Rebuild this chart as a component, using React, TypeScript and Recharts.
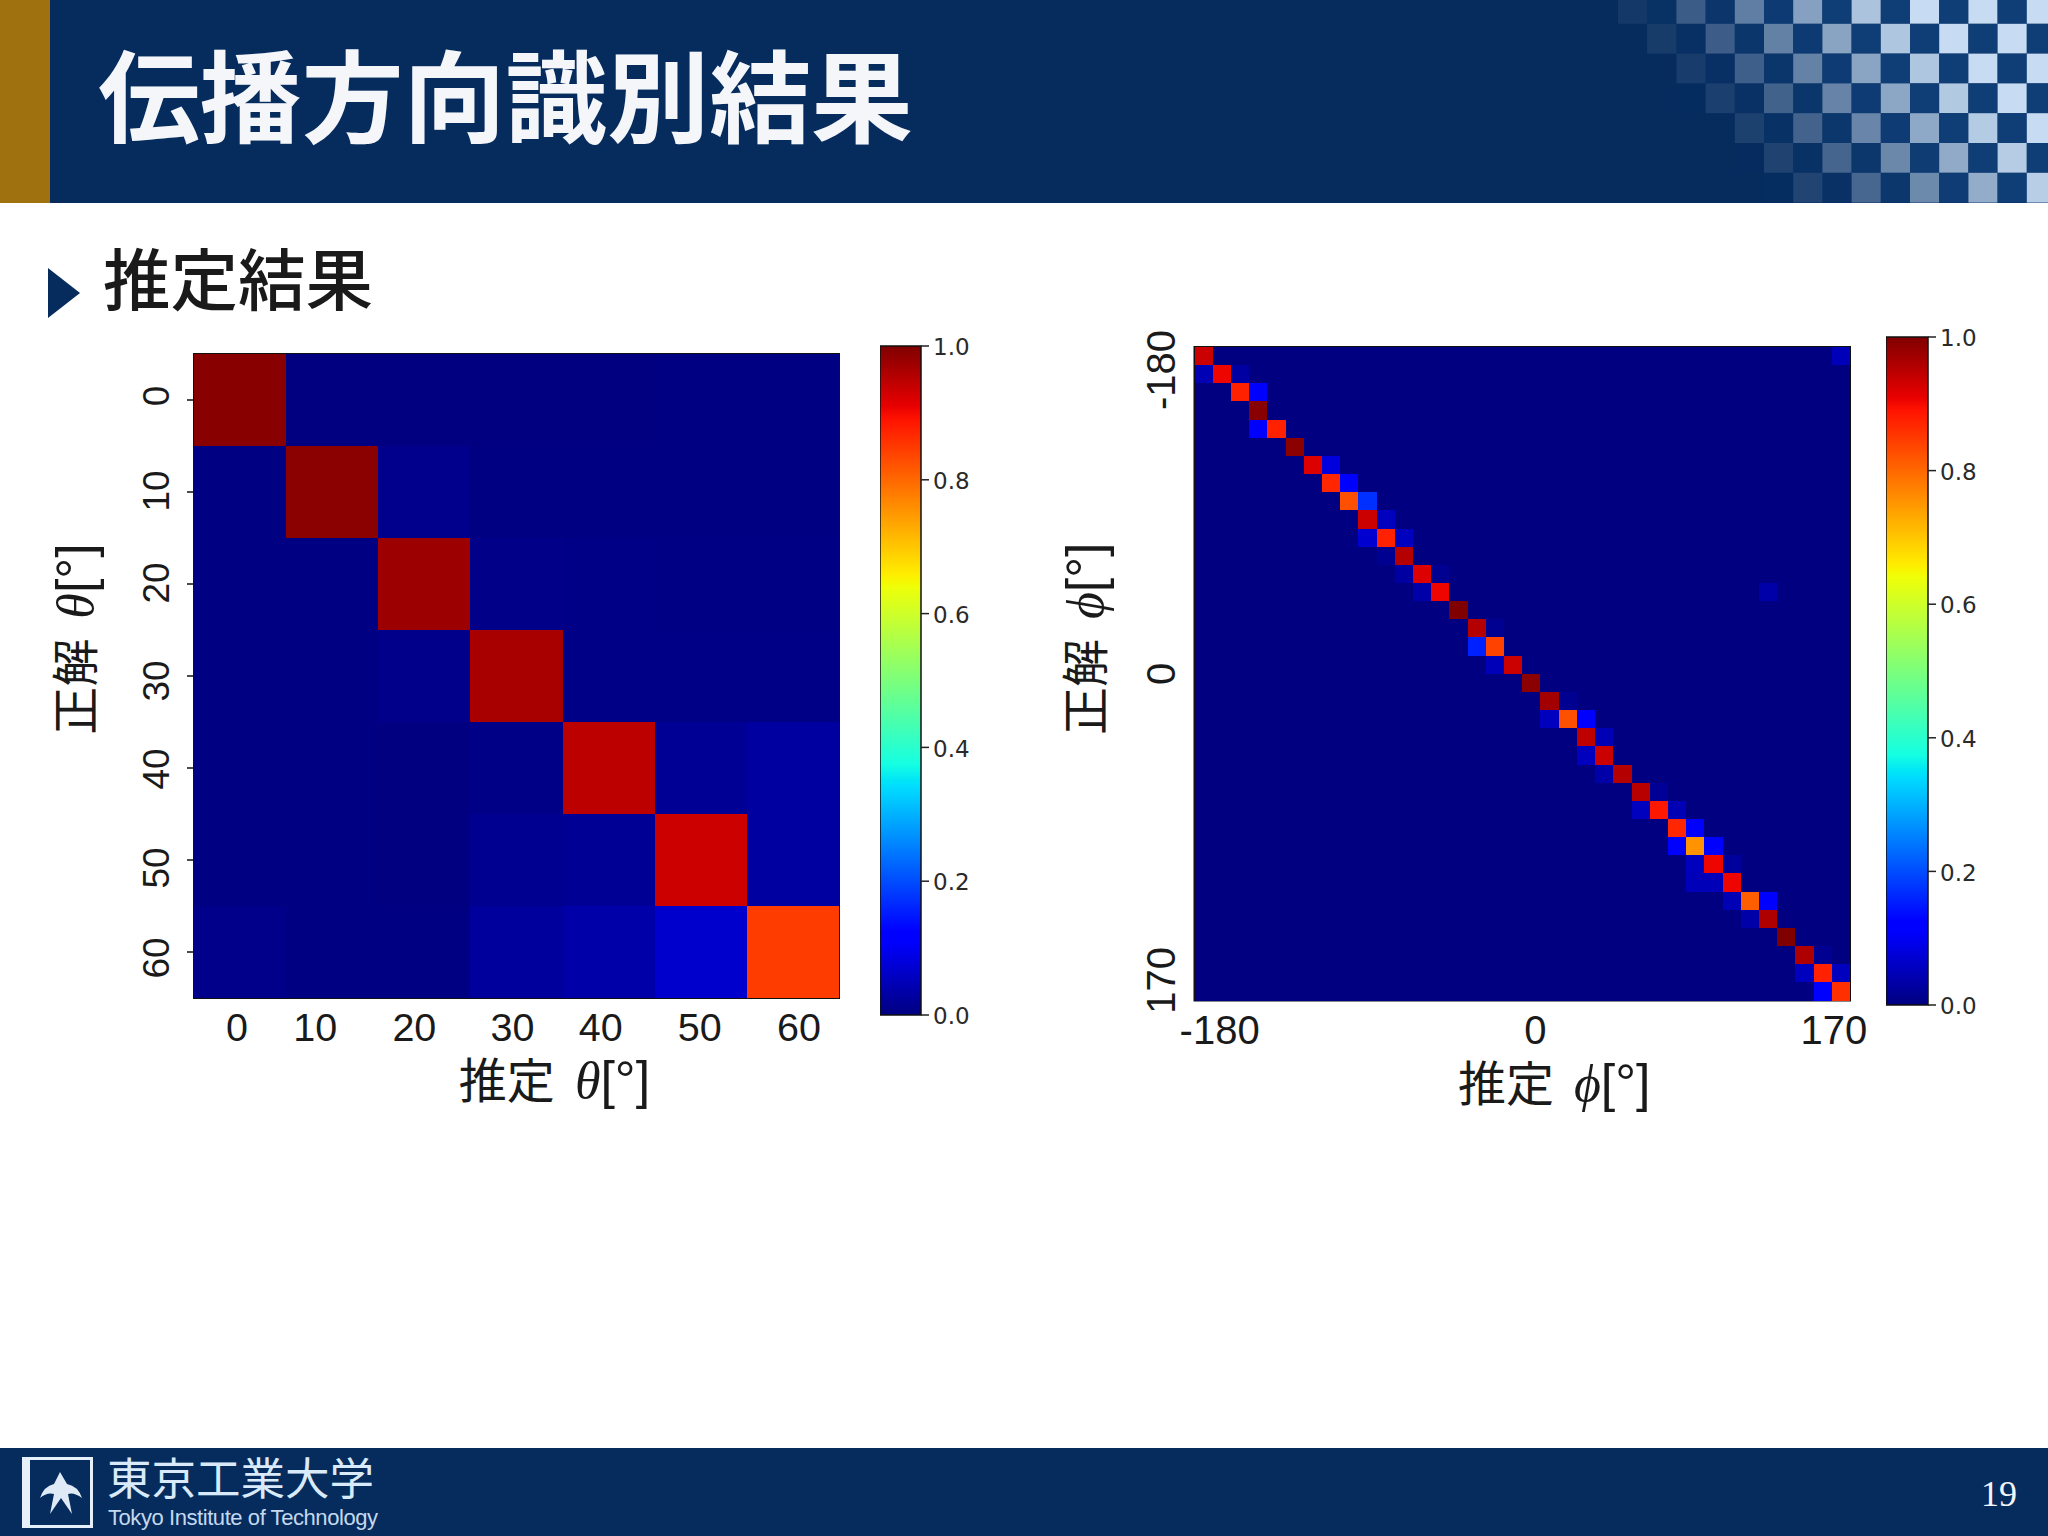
import { BarChart, Bar, XAxis, YAxis, ScatterChart, Scatter, ReferenceArea, Label } from "recharts";

const TITLE = "伝播方向識別結果";
const SUBTITLE = "推定結果";

// theta confusion matrix, rows = true angle, columns = estimated angle
const thetaLabels = [0, 10, 20, 30, 40, 50, 60];
const thetaRow0 = [0.993, 0.001, 0.001, 0.001, 0.001, 0.003, 0.003];
const thetaRow1 = [0.002, 0.99, 0.012, 0.002, 0.002, 0.003, 0.002];
const thetaRow2 = [0.002, 0.003, 0.975, 0.008, 0.006, 0.005, 0.004];
const thetaRow3 = [0.003, 0.002, 0.01, 0.965, 0.006, 0.006, 0.006];
const thetaRow4 = [0.003, 0.002, 0.001, 0.006, 0.948, 0.018, 0.028];
const thetaRow5 = [0.002, 0.002, 0.001, 0.014, 0.018, 0.933, 0.028];
const thetaRow6 = [0.009, 0.002, 0.002, 0.025, 0.036, 0.066, 0.846];
const thetaRows = [thetaRow0, thetaRow1, thetaRow2, thetaRow3, thetaRow4, thetaRow5, thetaRow6];

// phi confusion matrix is almost empty, so only the non zero cells are listed: [row, column, value]
const phiLabels = [-180, 0, 170];
const phiAngles = [
  -180, -170, -160, -150, -140, -130, -120, -110, -100, -90, -80, -70, -60, -50, -40, -30, -20, -10,
  0, 10, 20, 30, 40, 50, 60, 70, 80, 90, 100, 110, 120, 130, 140, 150, 160, 170,
];
const phiCells = [
  [0, 0, 0.935], [0, 35, 0.05],
  [1, 0, 0.045], [1, 1, 0.905], [1, 2, 0.03],
  [2, 2, 0.875], [2, 3, 0.11],
  [3, 3, 0.993],
  [4, 3, 0.11], [4, 4, 0.875],
  [5, 5, 0.99],
  [6, 6, 0.92], [6, 7, 0.08],
  [7, 7, 0.87], [7, 8, 0.11],
  [8, 8, 0.826], [8, 9, 0.172],
  [9, 9, 0.935], [9, 10, 0.055],
  [10, 9, 0.07], [10, 10, 0.875], [10, 11, 0.055],
  [11, 10, 0.015], [11, 11, 0.955],
  [12, 11, 0.03], [12, 12, 0.92], [12, 13, 0.015],
  [13, 12, 0.035], [13, 13, 0.905], [13, 31, 0.035],
  [14, 14, 1.0],
  [15, 15, 0.955], [15, 16, 0.015],
  [16, 15, 0.157], [16, 16, 0.84],
  [17, 16, 0.05], [17, 17, 0.935],
  [18, 18, 0.99],
  [19, 19, 0.97], [19, 20, 0.015],
  [20, 19, 0.055], [20, 20, 0.825], [20, 21, 0.11],
  [21, 21, 0.945], [21, 22, 0.045],
  [22, 21, 0.055], [22, 22, 0.935],
  [23, 22, 0.035], [23, 23, 0.955],
  [24, 24, 0.95], [24, 25, 0.02],
  [25, 24, 0.055], [25, 25, 0.885], [25, 26, 0.045],
  [26, 26, 0.87], [26, 27, 0.11],
  [27, 26, 0.11], [27, 27, 0.753], [27, 28, 0.11],
  [28, 27, 0.055], [28, 28, 0.905], [28, 29, 0.025],
  [29, 27, 0.05], [29, 28, 0.05], [29, 29, 0.905],
  [30, 29, 0.045], [30, 30, 0.81], [30, 31, 0.11],
  [31, 30, 0.035], [31, 31, 0.96],
  [32, 32, 1.0],
  [33, 33, 0.96], [33, 34, 0.015],
  [34, 33, 0.055], [34, 34, 0.875], [34, 35, 0.055],
  [35, 34, 0.11], [35, 35, 0.86],
];

const colorbarTicks = [0, 0.2, 0.4, 0.6, 0.8, 1];
const colorbarData = [{ name: "scale", value: 1 }];
const jetStops = [0, 0.11, 0.125, 0.34, 0.35, 0.375, 0.64, 0.65, 0.66, 0.89, 0.91, 1];

const thetaTable = thetaRows.flatMap((row, r) =>
  row.map((value, c) => ({ x: thetaLabels[c], y: thetaLabels[r], value }))
);
const phiLookup = new Map(phiCells.map(([r, c, v]) => [`${r}-${c}`, v]));
const phiTable = phiAngles.flatMap((yAngle, r) =>
  phiAngles.map((xAngle, c) => ({ x: xAngle, y: yAngle, value: phiLookup.get(`${r}-${c}`) ?? 0 }))
);

const NAVY = "#062c5e";
const JP = '"Noto Sans CJK JP", sans-serif';
const ARIAL = '"Liberation Sans", Arial, sans-serif';
const DEJAVU = '"DejaVu Sans", sans-serif';

// matplotlib's jet, piecewise
const ramp = (v: number, pts: number[][]) => {
  for (let i = 1; i < pts.length; i++) {
    if (v <= pts[i][0]) {
      const [x0, y0] = pts[i - 1];
      const [x1, y1] = pts[i];
      return y0 + ((v - x0) / (x1 - x0)) * (y1 - y0);
    }
  }
  return pts[pts.length - 1][1];
};
const jet = (v: number) => {
  const r = ramp(v, [[0, 0], [0.35, 0], [0.66, 1], [0.89, 1], [1, 0.5]]);
  const g = ramp(v, [[0, 0], [0.125, 0], [0.375, 1], [0.64, 1], [0.91, 0], [1, 0]]);
  const b = ramp(v, [[0, 0.5], [0.11, 1], [0.34, 1], [0.65, 0], [1, 0]]);
  return `rgb(${Math.round(r * 255)},${Math.round(g * 255)},${Math.round(b * 255)})`;
};

const heatCell = (w: number, h: number) => (p: any) => (
  <rect
    x={p.cx - w / 2}
    y={p.cy - h / 2}
    width={w}
    height={h}
    fill={jet(p.payload.value)}
    shapeRendering="crispEdges"
  />
);

const axisTitle = (symbol: string, prefix: string, vertical: boolean, shift: number, cross: number) => (props: any) => {
  const { x, y, width, height } = props.viewBox;
  const tx = vertical ? x + cross : x + width / 2 + shift;
  const ty = vertical ? y + height / 2 + shift : y + cross;
  return (
    <text
      x={tx}
      y={ty}
      textAnchor="middle"
      fill="#1a1a1a"
      fontSize={48}
      fontFamily={JP}
      transform={vertical ? `rotate(-90 ${tx} ${ty})` : undefined}
    >
      {prefix}
      <tspan dx={20} fontFamily='"Liberation Serif", serif' fontStyle="italic" fontSize={52}>{symbol}</tspan>
      <tspan fontFamily={ARIAL} fontSize={52}>[°]</tspan>
    </text>
  );
};

const numberTick = (fontSize: number, nudge: number[], dy: number) => (p: any) => (
  <text x={p.x + nudge[p.index]} y={p.y + dy} textAnchor="middle" fontSize={fontSize} fontFamily={ARIAL} fill="#1a1a1a">
    {p.payload.value}
  </text>
);
const rotatedTick = (fontSize: number, nudge: number[], dx: number) => (p: any) => {
  const tx = p.x + dx;
  const ty = p.y + nudge[p.index];
  return (
    <text x={tx} y={ty} textAnchor="middle" fontSize={fontSize} fontFamily={ARIAL} fill="#1a1a1a" transform={`rotate(-90 ${tx} ${ty})`}>
      {p.payload.value}
    </text>
  );
};

const Colorbar = ({ id, left, top, barWidth, barHeight }: any) => (
  <div style={{ position: "absolute", left, top: top - 20 }}>
    <BarChart
      width={barWidth + 69}
      height={barHeight + 40}
      data={colorbarData}
      margin={{ top: 20, right: 0, bottom: 20, left: 0 }}
      barCategoryGap={0}
    >
      <defs>
        <linearGradient id={id} x1="0" y1="1" x2="0" y2="0">
          {jetStops.map((s) => (
            <stop key={s} offset={s} stopColor={jet(s)} />
          ))}
        </linearGradient>
      </defs>
      <XAxis dataKey="name" hide />
      <YAxis
        orientation="right"
        width={69}
        domain={[0, 1]}
        ticks={colorbarTicks}
        interval={0}
        axisLine={false}
        tickSize={8}
        tickMargin={4}
        tickLine={{ stroke: "#222", strokeWidth: 1.5 }}
        tickFormatter={(v: number) => v.toFixed(1)}
        tick={{ fill: "#2a2a2a", fontSize: 23, fontFamily: DEJAVU, dy: 1 }}
      />
      <Bar dataKey="value" fill={`url(#${id})`} stroke="#111" strokeWidth={1.5} isAnimationActive={false} />
    </BarChart>
  </div>
);

const Background = () => {
  const squares = [];
  for (let row = 0; row < 7; row++) {
    for (let col = 0; col < 30; col++) {
      const x = 1618 + col * 29.2;
      const y = -6 + row * 29.8;
      const light = (col + row) % 2 === 0;
      const alpha = Math.min(0.96, Math.max(0, (x - 1595 - row * 26) / 310));
      squares.push(
        <rect
          key={`${row}-${col}`}
          x={x}
          y={y}
          width={29.2}
          height={29.8}
          fill={light ? "#cfe3f8" : "#0f3d75"}
          opacity={light ? alpha : Math.min(1, alpha * 1.6)}
        />
      );
    }
  }
  return (
    <svg width={2048} height={1536} style={{ position: "absolute", left: 0, top: 0 }}>
      <rect width={2048} height={1536} fill="#fff" />
      <rect width={2048} height={203} fill={NAVY} />
      <svg x={0} y={0} width={2048} height={203}>{squares}</svg>
      <rect width={50} height={203} fill="#a0720f" />
      <text x={98} y={135} fontSize={100} fontWeight={700} fontFamily={JP} fill="#f4f6fa" textLength={815} lengthAdjust="spacingAndGlyphs">{TITLE}</text>
      <polygon points="48,268 80,293 48,318" fill={NAVY} />
      <text x={103} y={305} fontSize={67.5} fontWeight={500} fontFamily={JP} fill="#1a1a1a">{SUBTITLE}</text>

      <rect y={1448} width={2048} height={88} fill={NAVY} />
      <rect x={22} y={1457} width={71} height={71} fill="#e6f0fa" />
      <rect x={30} y={1460} width={60} height={65} fill={NAVY} />
      <path
        d="M60 1472 L67 1484 Q78 1486 82 1498 Q74 1492 68 1494 L72 1514 L61 1498 L50 1514 L54 1494 Q47 1492 40 1498 Q44 1486 54 1484 Z"
        fill="#dfeaf6"
      />
      <text x={107} y={1495} fontSize={44.5} fontFamily={JP} fill="#d9eafa">東京工業大学</text>
      <text x={108} y={1525} fontSize={22} fontFamily={ARIAL} fill="#c4d8ee" textLength={270}>Tokyo Institute of Technology</text>
      <text x={1981} y={1506} fontSize={36} fontFamily='"Liberation Serif", serif' fill="#f2f5f9">19</text>
    </svg>
  );
};

export default function App() {
  return (
    <div style={{ position: "absolute", left: 0, top: 0, width: 2048, height: 1536, overflow: "hidden" }}>
      <Background />

      <div style={{ position: "absolute", left: 40, top: 340 }}>
        <ScatterChart width={820} height={790} margin={{ top: 14, right: 21, bottom: 0, left: 0 }}>
          <XAxis
            type="number"
            dataKey="x"
            height={132}
            domain={[-5, 65]}
            ticks={thetaLabels}
            interval={0}
            axisLine={false}
            tickLine={false}
            tickSize={0}
            tickMargin={0}
            tick={numberTick(39.5, [-3, -17, -10, -4, -8, -1, 6], 43)}
          >
            <Label content={axisTitle("θ", "推定", false, 38, 100)} />
          </XAxis>
          <YAxis
            type="number"
            dataKey="y"
            width={154}
            reversed
            domain={[-5, 65]}
            ticks={thetaLabels}
            interval={0}
            axisLine={false}
            tickSize={7}
            tickMargin={0}
            tickLine={{ stroke: "#111", strokeWidth: 1.5 }}
            tick={rotatedTick(37, [-4, -1, -1, 5, 1, 8, 6], -18)}
          >
            <Label content={axisTitle("θ", "正解", true, -37, 53)} />
          </YAxis>
          <Scatter data={thetaTable} shape={heatCell(645 / 7, 644 / 7)} isAnimationActive={false} />
          <ReferenceArea x1={-5} x2={65} y1={-5} y2={65} fill="none" stroke="#111" strokeWidth={2} />
        </ScatterChart>
      </div>
      <Colorbar id="jet-theta" left={880} top={346} barWidth={41} barHeight={669} />

      <div style={{ position: "absolute", left: 1050, top: 330 }}>
        <ScatterChart width={820} height={790} margin={{ top: 17, right: 20, bottom: 0, left: 0 }}>
          <XAxis
            type="number"
            dataKey="x"
            height={119.5}
            domain={[-185, 175]}
            ticks={phiLabels}
            interval={0}
            axisLine={false}
            tickLine={false}
            tickSize={0}
            tickMargin={0}
            tick={numberTick(40, [16, 4, -7], 43)}
          >
            <Label content={axisTitle("ϕ", "推定", false, 32, 100)} />
          </XAxis>
          <YAxis
            type="number"
            dataKey="y"
            width={144.5}
            reversed
            domain={[-185, 175]}
            ticks={phiLabels}
            interval={0}
            axisLine={false}
            tickLine={false}
            tickSize={0}
            tickMargin={0}
            tick={rotatedTick(40, [14, -9, -11], -19)}
          >
            <Label content={axisTitle("ϕ", "正解", true, -35, 53)} />
          </YAxis>
          <Scatter data={phiTable} shape={heatCell(655.5 / 36, 653.5 / 36)} isAnimationActive={false} />
          <ReferenceArea x1={-185} x2={175} y1={-185} y2={175} fill="none" stroke="#111" strokeWidth={2} />
        </ScatterChart>
      </div>
      <Colorbar id="jet-phi" left={1886} top={337} barWidth={42} barHeight={668} />
    </div>
  );
}
